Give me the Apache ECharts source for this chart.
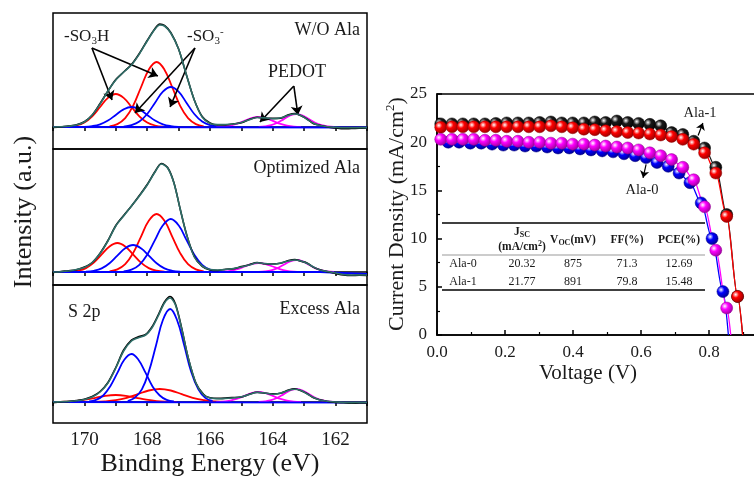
<!DOCTYPE html>
<html>
<head>
<meta charset="utf-8">
<script src="https://cdn.jsdelivr.net/npm/echarts@6/dist/echarts.min.js"></script>
<style>
  html, body { margin: 0; padding: 0; background: #fff; }
  #chart { width: 754px; height: 481px; }
</style>
</head>
<body>
<div id="chart"></div>
<script>
// ---------- XPS S 2p panels: [binding energy (eV), intensity above baseline] ----------
// W/O Ala
const woRedA  = [[170.5,0.4],[170.25,1.5],[170,4.5],[169.75,10.7],[169.5,20],[169.25,29.1],[169,33],[168.75,29.1],[168.5,20],[168.25,10.7],[168,4.5],[167.75,1.5],[167.5,0.4]];
const woRedB  = [[169.2,0.7],[168.95,2.9],[168.7,8.8],[168.45,21.1],[168.2,39.5],[167.95,57.3],[167.7,65],[167.45,57.3],[167.2,39.5],[166.95,21.1],[166.7,8.8],[166.45,2.9],[166.2,0.7]];
const woBlueA = [[170,0.2],[169.75,0.9],[169.5,2.7],[169.25,6.5],[169,12.1],[168.75,17.6],[168.5,20],[168.25,17.6],[168,12.1],[167.75,6.5],[167.5,2.7],[167.25,0.9],[167,0.2]];
const woBlueB = [[168.75,0.4],[168.5,1.8],[168.25,5.4],[168,13],[167.75,24.3],[167.5,35.3],[167.25,40],[167,35.3],[166.75,24.3],[166.5,13],[166.25,5.4],[166,1.8],[165.75,0.4]];
const woPedA  = [[165.8,0.1],[165.58,0.4],[165.35,1.4],[165.13,3.3],[164.9,6.1],[164.68,8.8],[164.45,10],[164.23,8.8],[164,6.1],[163.78,3.3],[163.55,1.4],[163.33,0.4],[163.1,0.1]];
const woPedB  = [[164.45,0.1],[164.25,0.6],[164.05,1.8],[163.85,4.2],[163.65,7.9],[163.45,11.5],[163.25,13],[163.05,11.5],[162.85,7.9],[162.65,4.2],[162.45,1.8],[162.25,0.6],[162.05,0.1]];
const woFit   = [[171,0],[170.75,0.2],[170.5,0.8],[170.25,2],[170,5],[169.75,12],[169.5,23],[169.25,36],[169,47],[168.75,55],[168.5,62],[168.25,73],[168,86],[167.75,98],[167.6,102],[167.45,101],[167.25,94],[167,78],[166.75,52],[166.5,27],[166.25,10],[166,3.5],[165.75,2.5],[165.5,2.5],[165.25,3],[165,4.6],[164.75,7.2],[164.5,9.5],[164.25,9.1],[164,8.3],[163.75,9.2],[163.5,11.8],[163.3,13],[163.1,11.6],[162.9,7.5],[162.7,3.8],[162.5,1.5],[162.25,0.3],[162,-0.3],[161.75,-0.8],[161.5,-0.8],[161,-0.6]];
const woRaw   = [[171,-0.5],[170.75,0],[170.5,1],[170.25,2.2],[170,5.3],[169.75,12],[169.5,23.5],[169.25,36],[169,47.5],[168.75,55],[168.5,62.5],[168.25,73.5],[168,86.5],[167.75,98.5],[167.6,103],[167.45,101.5],[167.25,94.5],[167,78],[166.75,52],[166.5,27],[166.25,10.5],[166,4],[165.75,2],[165.5,2],[165.25,3.2],[165,4.2],[164.75,7.6],[164.5,9.8],[164.25,8.8],[164,8.6],[163.75,8.8],[163.5,12.2],[163.3,13.5],[163.1,11.2],[162.9,7.8],[162.7,3.3],[162.5,1.8],[162.25,0],[162,-1],[161.75,-1.8],[161.5,-1.5],[161.25,-1.2],[161,-1]];
const woBase  = [[171,0],[161,-0.5]];

// Optimized Ala
const optRedA  = [[170.45,0.3],[170.2,1.3],[169.95,3.9],[169.7,9.4],[169.45,17.6],[169.2,25.6],[168.95,29],[168.7,25.6],[168.45,17.6],[168.2,9.4],[167.95,3.9],[167.7,1.3],[167.45,0.3]];
const optRedB  = [[169.2,0.6],[168.95,2.6],[168.7,7.8],[168.45,18.9],[168.2,35.2],[167.95,51.2],[167.7,58],[167.45,51.2],[167.2,35.2],[166.95,18.9],[166.7,7.8],[166.45,2.6],[166.2,0.6]];
const optBlueA = [[169.95,0.3],[169.7,1.2],[169.45,3.6],[169.2,8.8],[168.95,16.4],[168.7,23.8],[168.45,27],[168.2,23.8],[167.95,16.4],[167.7,8.8],[167.45,3.6],[167.2,1.2],[166.95,0.3]];
const optBlueB = [[168.75,0.6],[168.5,2.3],[168.25,7.2],[168,17.2],[167.75,32.2],[167.5,46.7],[167.25,53],[167,46.7],[166.75,32.2],[166.5,17.2],[166.25,7.2],[166,2.3],[165.75,0.6]];
const optPedA  = [[165.8,0.1],[165.58,0.4],[165.35,1.2],[165.13,2.9],[164.9,5.5],[164.68,7.9],[164.45,9],[164.23,7.9],[164,5.5],[163.78,2.9],[163.55,1.2],[163.33,0.4],[163.1,0.1]];
const optPedB  = [[164.45,0.1],[164.25,0.5],[164.05,1.6],[163.85,3.9],[163.65,7.3],[163.45,10.6],[163.25,12],[163.05,10.6],[162.85,7.3],[162.65,3.9],[162.45,1.6],[162.25,0.5],[162.05,0.1]];
const optFit   = [[171,0],[170.75,0.3],[170.5,1],[170.25,2.5],[170,4.5],[169.75,9.5],[169.5,18.5],[169.25,31],[169,46],[168.75,56],[168.5,66],[168.25,76],[168,87],[167.75,100],[167.55,108],[167.35,104],[167.15,89],[166.95,63],[166.75,38],[166.5,15],[166.25,6],[166,2.5],[165.75,2],[165.5,2.5],[165.25,3.5],[165,5],[164.75,7],[164.5,9.2],[164.25,8.5],[164,7.7],[163.75,9],[163.5,11],[163.3,12],[163.1,11],[162.9,8.5],[162.7,5],[162.5,2],[162.25,0.5],[162,-1],[161.75,-2.5],[161.5,-3],[161,-3]];
const optRaw   = [[171,-0.5],[170.75,0.5],[170.5,1.2],[170.25,2.3],[170,5],[169.75,9.5],[169.5,18.8],[169.25,31.5],[169,46.5],[168.75,56.5],[168.5,66],[168.25,76.5],[168,87.5],[167.75,100.5],[167.55,108.5],[167.35,104.5],[167.15,89.5],[166.95,63],[166.75,38],[166.5,15.5],[166.25,5.5],[166,2],[165.75,1.5],[165.5,2.8],[165.25,3.2],[165,5.4],[164.75,7.2],[164.5,9.5],[164.25,8.2],[164,8],[163.75,8.7],[163.5,11.4],[163.3,12.5],[163.1,10.8],[162.9,8.8],[162.7,4.6],[162.5,2.2],[162.25,0.2],[162,-1.5],[161.75,-3],[161.5,-3.5],[161.25,-3.2],[161,-3.4]];
const optBase  = [[171,0],[162.5,0],[161,-2]];

// Excess Ala
const exRedA  = [[170.95,0.1],[170.63,0.3],[170.3,0.9],[169.98,2.3],[169.65,4.2],[169.33,6.2],[169,7],[168.68,6.2],[168.35,4.2],[168.03,2.3],[167.7,0.9],[167.38,0.3],[167.05,0.1]];
const exRedB  = [[169.7,0.1],[169.35,0.6],[169,1.8],[168.65,4.2],[168.3,7.9],[167.95,11.5],[167.6,13],[167.25,11.5],[166.9,7.9],[166.55,4.2],[166.2,1.8],[165.85,0.6],[165.5,0.1]];
const exBlueA = [[169.85,0.5],[169.63,2.1],[169.4,6.5],[169.18,15.6],[168.95,29.1],[168.73,42.3],[168.5,48],[168.28,42.3],[168.05,29.1],[167.83,15.6],[167.6,6.5],[167.38,2.1],[167.15,0.5]];
const exBlueB = [[168.62,1],[168.4,4.1],[168.17,12.6],[167.95,30.2],[167.72,56.5],[167.5,82],[167.27,93],[167.05,82],[166.82,56.5],[166.6,30.2],[166.37,12.6],[166.15,4.1],[165.92,1]];
const exPedA  = [[165.8,0.1],[165.58,0.4],[165.35,1.4],[165.13,3.3],[164.9,6.1],[164.68,8.8],[164.45,10],[164.23,8.8],[164,6.1],[163.78,3.3],[163.55,1.4],[163.33,0.4],[163.1,0.1]];
const exPedB  = [[164.45,0.1],[164.25,0.6],[164.05,1.8],[163.85,4.2],[163.65,7.9],[163.45,11.5],[163.25,13],[163.05,11.5],[162.85,7.9],[162.65,4.2],[162.45,1.8],[162.25,0.6],[162.05,0.1]];
const exFit   = [[171,0],[170.75,0.3],[170.5,0.6],[170.25,1.2],[170,2.5],[169.75,5],[169.5,10],[169.25,19],[169,34],[168.75,51],[168.5,61],[168.3,64],[168.05,67],[167.85,74],[167.65,86],[167.45,99],[167.27,104],[167.1,97],[166.9,73],[166.7,45],[166.45,19],[166.2,7],[166,4],[165.7,3.3],[165.3,4],[165,5.2],[164.75,7.5],[164.5,9.6],[164.25,9],[164,7.8],[163.75,9],[163.5,11.6],[163.3,12.8],[163.1,11.5],[162.9,8],[162.7,4.5],[162.5,2],[162.25,0.7],[162,0],[161.75,-0.5],[161.5,-0.6],[161,-0.5]];
const exRaw   = [[171,-0.8],[170.75,0],[170.5,0.5],[170.25,1.5],[170,2.8],[169.75,5.5],[169.5,10.5],[169.25,19.5],[169,34.5],[168.75,52],[168.5,62],[168.3,65],[168.05,67.5],[167.85,75],[167.65,87],[167.45,100],[167.27,105.5],[167.1,98],[166.9,73.5],[166.7,45],[166.45,19],[166.2,7.5],[166,4.2],[165.7,3.6],[165.3,4.4],[165,5],[164.75,7.8],[164.5,9.8],[164.25,8.8],[164,8.2],[163.75,8.8],[163.5,12],[163.3,13.3],[163.1,11.2],[162.9,8.3],[162.7,4.2],[162.5,2.3],[162.25,0.5],[162,-0.5],[161.75,-0.8],[161.5,-1.2],[161.25,-1],[161,-1]];
const exBase  = [[171,0],[161,-0.7]];

// annotation arrows in the W/O Ala panel: [from, to] in data units
const arrowsSO3H  = [[[169.76,79],[169.12,27]], [[169.76,79],[167.66,51]]];
const arrowsSO3   = [[[166.48,79],[168.39,14]], [[166.48,79],[167.27,20]]];
const arrowsPEDOT = [[[163.33,41],[164.41,5]], [[163.33,41],[163.2,12]]];

// ---------- J-V curves ----------
const voltA = [0.011,0.044,0.076,0.108,0.141,0.173,0.205,0.238,0.270,0.302,0.335,0.367,0.399,0.432,0.464,0.496,0.529,0.561,0.593,0.626,0.658,0.690,0.723,0.755,0.787,0.820,0.852,0.884];
const voltB = [0.033,0.065,0.098,0.130,0.162,0.195,0.227,0.259,0.292,0.324,0.356,0.389,0.421,0.453,0.486,0.518,0.550,0.583,0.615,0.647,0.680,0.712,0.744,0.777,0.809,0.841];
const jBlack = [21.9,21.9,21.9,21.9,21.9,21.95,22.0,22.0,22.0,22.05,22.1,22.0,22.0,22.0,22.1,22.05,22.2,22.05,21.95,21.85,21.7,21.0,20.8,20.1,19.4,17.4,12.5,4.0];
const jRed   = [21.55,21.6,21.6,21.6,21.6,21.6,21.6,21.6,21.6,21.6,21.7,21.6,21.5,21.35,21.3,21.2,21.1,21.0,20.95,20.85,20.75,20.6,20.3,19.8,18.9,16.8,12.3,4.0];
const jMag   = [20.3,20.3,20.3,20.3,20.2,20.2,20.1,20.1,20.0,20.0,19.9,19.9,19.8,19.8,19.7,19.6,19.5,19.4,19.2,18.9,18.6,18.2,17.4,16.1,13.3,8.8,2.8];
const jBlue  = [20.0,20.0,19.9,19.9,19.8,19.7,19.7,19.6,19.6,19.5,19.4,19.4,19.3,19.2,19.1,19.0,18.8,18.6,18.4,17.9,17.5,16.8,15.8,13.7,10.0,4.5];
const vocBlack = 0.899, vocRed = 0.899, vocMag = 0.864, vocBlue = 0.857;
const arrowAla1 = [[0.768,20.7],[0.782,22.0]];
const arrowAla0 = [[0.615,17.7],[0.606,16.3]];

// table
const tableRows = [
  ['Ala-0', '20.32', '875', '71.3', '12.69'],
  ['Ala-1', '21.77', '891', '79.8', '15.48']
];

const FONT = "'Liberation Serif', 'Times New Roman', serif";
const myChart = echarts.init(document.getElementById('chart'));

// left panels
const panels = [
  { top: 13,  height: 136, min: -22, max: 114, red: [woRedA, woRedB],  blue: [woBlueA, woBlueB],  ped: [woPedA, woPedB],  fit: woFit,  raw: woRaw,  base: woBase },
  { top: 149, height: 136, min: -13, max: 123, red: [optRedA, optRedB], blue: [optBlueA, optBlueB], ped: [optPedA, optPedB], fit: optFit, raw: optRaw, base: optBase },
  { top: 285, height: 138, min: -21, max: 117, red: [exRedA, exRedB],  blue: [exBlueA, exBlueB],  ped: [exPedA, exPedB],  fit: exFit,  raw: exRaw,  base: exBase }
];

const grids = [], xAxes = [], yAxes = [], series = [];

function curve(data, color, idx, width, z, smooth) {
  return {
    type: 'line', xAxisIndex: idx, yAxisIndex: idx, data: data,
    symbol: 'none', smooth: smooth, z: z,
    lineStyle: { color: color, width: width }
  };
}

function arrowLines(pairs) {
  return pairs.map(p => [{ coord: p[0] }, { coord: p[1] }]);
}

panels.forEach((p, i) => {
  grids.push({ left: 53, top: p.top, width: 314, height: p.height, show: true, borderColor: '#000', borderWidth: 1.5, backgroundColor: 'transparent', outerBoundsMode: 'none' });
  xAxes.push({
    type: 'value', gridIndex: i, min: 161, max: 171, interval: 1, inverse: true,
    axisLine: { lineStyle: { color: '#000', width: 1.5 } },
    axisTick: { inside: false, length: 4, lineStyle: { color: '#000', width: 1.5 } },
    axisLabel: {
      show: i === 2, margin: 8, color: '#1a1a1a', fontFamily: FONT, fontSize: 19,
      formatter: v => (v % 2 === 0 ? String(v) : '')
    },
    splitLine: { show: false }
  });
  yAxes.push({ type: 'value', gridIndex: i, min: p.min, max: p.max, show: false });

  p.red.forEach(d => series.push(curve(d, '#ff0000', i, 1.8, 2, 0.4)));
  p.blue.forEach(d => series.push(curve(d, '#0000ff', i, 1.8, 3, 0.4)));
  p.ped.forEach(d => series.push(curve(d, '#ff00ff', i, 1.8, 3, 0.4)));
  series.push(curve(p.base, '#0000ff', i, 1.8, 4, false));
  series.push(curve(p.raw, '#000000', i, 1.6, 5, 0.3));
  const fit = curve(p.fit, '#2f6e68', i, 1.6, 6, 0.3);
  if (i === 0) {
    fit.markLine = {
      silent: true, symbol: ['none', 'arrow'], symbolSize: 9, animation: false,
      label: { show: false },
      lineStyle: { color: '#000', width: 1.6, type: 'solid' },
      data: arrowLines(arrowsSO3H.concat(arrowsSO3, arrowsPEDOT))
    };
  }
  series.push(fit);
});

// J-V panel (right edge runs past the canvas, as in the cropped original)
grids.push({ left: 437, top: 94, width: 340, height: 241, show: true, borderColor: '#000', borderWidth: 1.5, backgroundColor: 'transparent', outerBoundsMode: 'none' });
xAxes.push({
  type: 'value', gridIndex: 3, min: 0, max: 1, interval: 0.2,
  axisLine: { lineStyle: { color: '#000', width: 1.5 } },
  axisTick: { inside: true, length: 5, lineStyle: { color: '#000', width: 1.5 } },
  minorTick: { show: true, splitNumber: 2, length: 3, lineStyle: { color: '#000', width: 1.2 } },
  axisLabel: { margin: 9, color: '#1a1a1a', fontFamily: FONT, fontSize: 17, formatter: v => v.toFixed(1) },
  splitLine: { show: false }
});
yAxes.push({
  type: 'value', gridIndex: 3, min: 0, max: 25, interval: 5,
  axisLine: { lineStyle: { color: '#000', width: 1.5 } },
  axisTick: { inside: true, length: 5, lineStyle: { color: '#000', width: 1.5 } },
  minorTick: { show: true, splitNumber: 2, length: 3, lineStyle: { color: '#000', width: 1.2 } },
  axisLabel: { margin: 10, color: '#1a1a1a', fontFamily: FONT, fontSize: 17 },
  splitLine: { show: false }
});

function ball(main, dark) {
  return {
    type: 'radial', x: 0.35, y: 0.35, r: 0.75,
    colorStops: [{ offset: 0, color: '#ffffff' }, { offset: 0.35, color: main }, { offset: 1, color: dark }]
  };
}

function jv(name, volts, js, voc, color, dark, arrow) {
  const data = js.map((j, k) => [volts[k], j]);
  data.push({ value: [voc, 0], symbol: 'none' });
  const s = {
    type: 'line', name: name, xAxisIndex: 3, yAxisIndex: 3, data: data,
    smooth: 0.3, smoothMonotone: 'x', symbol: 'circle', symbolSize: 12, showAllSymbol: true,
    lineStyle: { color: color, width: 1.3 },
    itemStyle: { color: ball(color, dark), borderColor: dark, borderWidth: 0.5 },
    z: 3
  };
  if (arrow) {
    s.markLine = {
      silent: true, symbol: ['none', 'arrow'], symbolSize: 7, animation: false,
      label: { show: false },
      lineStyle: { color: '#000', width: 1.2, type: 'solid' },
      data: [[{ coord: arrow[0] }, { coord: arrow[1] }]]
    };
  }
  return s;
}

series.push(jv('Ala-1 a', voltA, jBlack, vocBlack, '#1a1a1a', '#000000', arrowAla1));
series.push(jv('Ala-1 b', voltA, jRed, vocRed, '#ff0000', '#8a0000', null));
series.push(jv('Ala-0 a', voltB, jBlue, vocBlue, '#0000ff', '#000080', arrowAla0));
series.push(jv('Ala-0 b', voltA, jMag, vocMag, '#ff00ff', '#900090', null));

// texts
function txt(x, y, text, size, align, extra) {
  return Object.assign({
    type: 'text', x: x, y: y, z: 100,
    style: { text: text, fill: '#1a1a1a', font: size + 'px ' + FONT, align: align || 'left', verticalAlign: 'middle' }
  }, extra || {});
}

function richTxt(x, y, text, size, align, rich) {
  return {
    type: 'text', x: x, y: y, z: 100,
    style: { text: text, fill: '#1a1a1a', align: align, verticalAlign: 'middle', rich: rich, fontFamily: FONT, fontSize: size }
  };
}

const subRich = {
  a: { fontFamily: FONT, fontSize: 17, lineHeight: 20, fill: '#1a1a1a' },
  s: { fontFamily: FONT, fontSize: 11, lineHeight: 11, verticalAlign: 'bottom', fill: '#1a1a1a' },
  u: { fontFamily: FONT, fontSize: 11, lineHeight: 11, verticalAlign: 'top', fill: '#1a1a1a' }
};

const hdrRich = {
  b: { fontFamily: FONT, fontSize: 11.5, fontWeight: 'bold', lineHeight: 14, fill: '#1a1a1a' },
  s: { fontFamily: FONT, fontSize: 8, fontWeight: 'bold', lineHeight: 8, verticalAlign: 'bottom', fill: '#1a1a1a' },
  u: { fontFamily: FONT, fontSize: 8, fontWeight: 'bold', lineHeight: 8, verticalAlign: 'top', fill: '#1a1a1a' }
};

const axisRich = {
  a: { fontFamily: FONT, fontSize: 22, lineHeight: 26, fill: '#1a1a1a' },
  u: { fontFamily: FONT, fontSize: 13, lineHeight: 13, verticalAlign: 'top', fill: '#1a1a1a' }
};

const colX = [463, 522, 573, 627, 679];
const rowY = [264, 282];

const graphic = [
  txt(360, 30, 'W/O Ala', 18, 'right'),
  txt(360, 168, 'Optimized Ala', 18, 'right'),
  txt(360, 309, 'Excess Ala', 18, 'right'),
  txt(68, 312, 'S 2p', 18, 'left'),
  richTxt(64, 37, '{a|-SO}{s|3}{a|H}', 17, 'left', subRich),
  richTxt(187, 37, '{a|-SO}{s|3}{u|-}', 17, 'left', subRich),
  txt(268, 72, 'PEDOT', 18, 'left'),
  txt(24, 212, 'Intensity (a.u.)', 26, 'center', { rotation: Math.PI / 2 }),
  txt(210, 464, 'Binding Energy (eV)', 26, 'center'),
  Object.assign(richTxt(397, 214, '{a|Current Density (mA/cm}{u|2}{a|)}', 22, 'center', axisRich), { rotation: Math.PI / 2 }),
  txt(588, 373, 'Voltage (V)', 21, 'center'),
  txt(700, 113, 'Ala-1', 14.5, 'center'),
  txt(642, 190, 'Ala-0', 14.5, 'center'),
  // table rules
  { type: 'line', z: 100, shape: { x1: 442, y1: 223, x2: 705, y2: 223 }, style: { stroke: '#000', lineWidth: 1.5 } },
  { type: 'line', z: 100, shape: { x1: 442, y1: 255, x2: 705, y2: 255 }, style: { stroke: '#999', lineWidth: 1 } },
  { type: 'line', z: 100, shape: { x1: 442, y1: 290, x2: 705, y2: 290 }, style: { stroke: '#000', lineWidth: 1.5 } },
  richTxt(colX[1], 232, '{b|J}{s|SC}', 11.5, 'center', hdrRich),
  richTxt(colX[1], 247, '{b|(mA/cm}{u|2}{b|)}', 11.5, 'center', hdrRich),
  richTxt(colX[2], 240, '{b|V}{s|OC}{b|(mV)}', 11.5, 'center', hdrRich),
  richTxt(colX[3], 240, '{b|FF(%)}', 11.5, 'center', hdrRich),
  richTxt(colX[4], 240, '{b|PCE(%)}', 11.5, 'center', hdrRich)
];

tableRows.forEach((row, r) => {
  row.forEach((cell, c) => graphic.push(txt(colX[c], rowY[r], cell, 12, 'center')));
});

const option = {
  animation: false,
  backgroundColor: '#ffffff',
  grid: grids,
  xAxis: xAxes,
  yAxis: yAxes,
  series: series,
  graphic: graphic
};

myChart.setOption(option);
</script>
</body>
</html>
